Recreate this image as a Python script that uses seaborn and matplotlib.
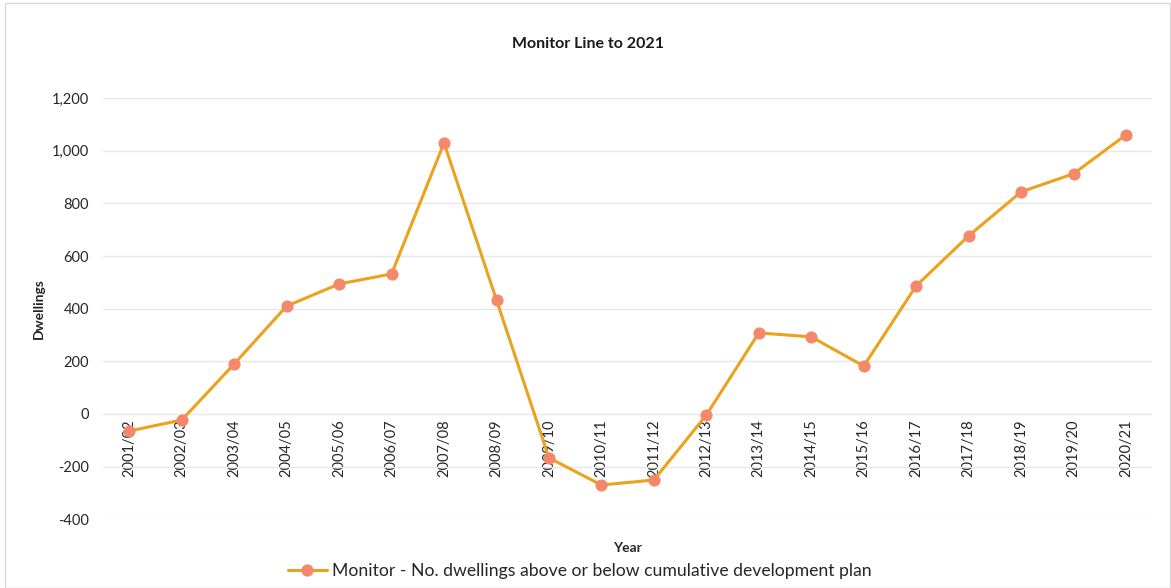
import matplotlib
matplotlib.use("Agg")
import matplotlib.pyplot as plt
import seaborn as sns
import pandas as pd
from matplotlib.patches import Rectangle
from matplotlib.ticker import FuncFormatter

years = ["2001/02", "2002/03", "2003/04", "2004/05", "2005/06", "2006/07", "2007/08",
         "2008/09", "2009/10", "2010/11", "2011/12", "2012/13", "2013/14", "2014/15",
         "2015/16", "2016/17", "2017/18", "2018/19", "2019/20", "2020/21"]
monitor = [-65, -23, 190, 410, 494, 532, 1030, 433, -167, -270, -251, -4, 308, 293,
           182, 487, 677, 844, 913, 1061]
series_name = "Monitor - No. dwellings above or below cumulative development plan"
y_ticks = [-400, -200, 0, 200, 400, 600, 800, 1000, 1200]

sns.set_theme(style="white")
plt.rcParams['font.family'] = ['Lato', 'DejaVu Sans']

df = pd.DataFrame({"Year": years, "Dwellings": monitor})

fig = plt.figure(figsize=(11.71, 5.88), dpi=100)
ax = fig.add_axes([0.088, 0.117, 0.896, 0.716])

sns.lineplot(data=df, x="Year", y="Dwellings", ax=ax, sort=False,
             color="#EBA21C", linewidth=2.2, marker="o", markersize=8,
             markerfacecolor="#F5886A", markeredgecolor="#F5886A",
             label=series_name, legend=False)

ax.set_xlim(-0.5, len(years) - 0.5)
ax.set_ylim(-400, 1200)
ax.set_yticks(y_ticks)
ax.yaxis.set_major_formatter(FuncFormatter(lambda v, p: f"{int(v):,}"))
ax.grid(axis="y", color="#E8E8E8", linewidth=1)
ax.grid(axis="x", visible=False)
ax.set_axisbelow(True)
for s in ["top", "right", "left"]:
    ax.spines[s].set_visible(False)
ax.spines["bottom"].set_position(("data", 0))
ax.spines["bottom"].set_visible(False)
ax.set_xticks(range(len(years)))
ax.set_xticklabels(years, rotation=90, fontsize=10.5, color="#262626")
ax.tick_params(axis="x", length=0, pad=4)
ax.tick_params(axis="y", length=0, pad=10, labelsize=10.5, labelcolor="#262626")

ax.set_xlabel("")
ax.set_ylabel("Dwellings", fontsize=10, fontweight="bold", color="#262626", labelpad=5)
fig.text(0.536, 0.068, "Year", ha="center", va="center", fontsize=10,
         fontweight="bold", color="#262626")
fig.text(0.502, 0.925, "Monitor Line to 2021", ha="center", va="center",
         fontsize=11.5, fontweight="bold", color="#1a1a1a")

handles, labels = ax.get_legend_handles_labels()
fig.legend(handles, labels, loc="center", bbox_to_anchor=(0.495, 0.029),
           frameon=False, fontsize=12.7, handlelength=2.2, handletextpad=0.3,
           labelcolor="#262626")

fig.patches.append(Rectangle((0.004, 0.0), 0.995, 0.995, transform=fig.transFigure,
                             fill=False, edgecolor="#D9D9D9", linewidth=1))

fig.savefig("out.png", dpi=100)
